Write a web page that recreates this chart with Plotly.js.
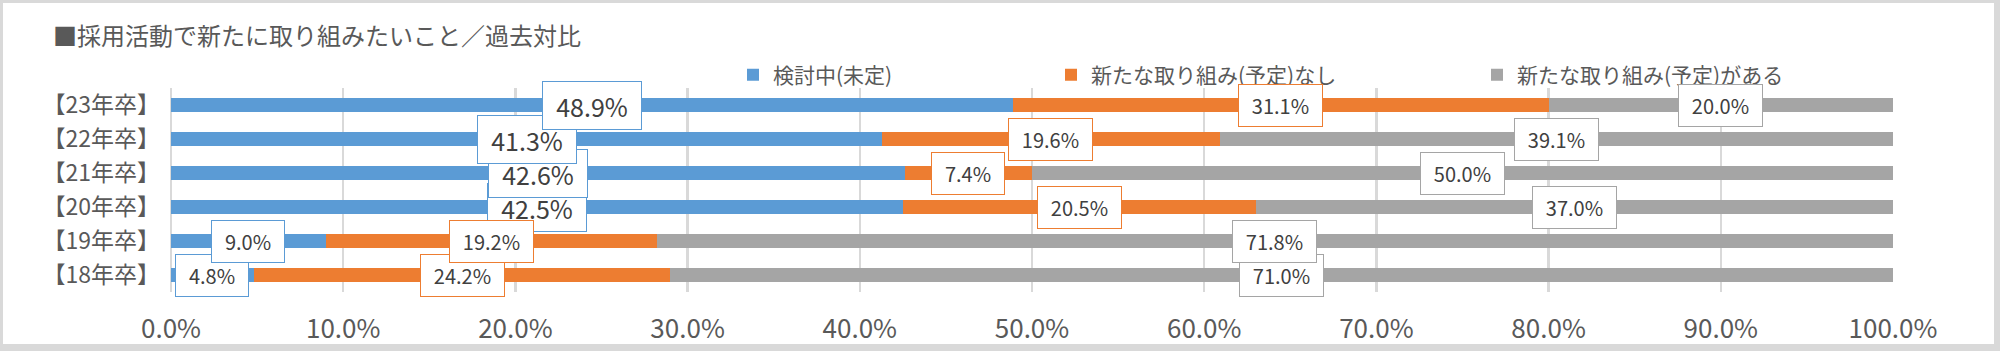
<!DOCTYPE html>
<html><head><meta charset="utf-8">
<script src="https://cdn.plot.ly/plotly-3.0.1.min.js"></script>
<style>html,body{margin:0;padding:0;background:#fff}#chart{width:2000px;height:351px}</style>
</head><body><div id="chart"></div>
<script>
// ---- data ----
const categories = ['【23年卒】','【22年卒】','【21年卒】','【20年卒】','【19年卒】','【18年卒】'];
const seriesNames = ['検討中(未定)','新たな取り組み(予定)なし','新たな取り組み(予定)がある'];
const undecided = [48.9, 41.3, 42.6, 42.5, 9.0, 4.8];
const noPlan    = [31.1, 19.6, 7.4, 20.5, 19.2, 24.2];
const hasPlan   = [20.0, 39.1, 50.0, 37.0, 71.8, 71.0];
const xTickVals = [0,10,20,30,40,50,60,70,80,90,100];
const xTickText = ['0.0%','10.0%','20.0%','30.0%','40.0%','50.0%','60.0%','70.0%','80.0%','90.0%','100.0%'];
const titleText = '■採用活動で新たに取り組みたいこと／過去対比';

// ---- styles ----
const colors = ['#5b9bd5','#ed7d31','#a5a5a5'];
const FONT = '"Noto Sans CJK JP", "Noto Sans", sans-serif';
const W = 2000, H = 351;
const M = {l:171, r:107, t:88, b:59};
const PW = W - M.l - M.r, PH = H - M.t - M.b;
const px2x = p => (p - M.l) / PW;
const px2y = p => (H - M.b - p) / PH;

const series = [undecided, noPlan, hasPlan];
const legendIds = ['legend','legend2','legend3'];
const legendTextX = [773, 1091, 1517];

const traces = series.map((vals, s) => ({
  type:'bar', orientation:'h', name: seriesNames[s],
  x: vals, y: categories,
  marker:{color: colors[s]},
  legend: legendIds[s],
  hoverinfo:'skip'
}));

// text measuring for label boxes
const cv = document.createElement('canvas').getContext('2d');
function textW(t, size){ cv.font = size + 'px ' + FONT; return cv.measureText(t).width; }

const annotations = [];
series.forEach((vals, s) => {
  for (let i = vals.length - 1; i >= 0; i--) {
    let cum = 0;
    for (let k = 0; k < s; k++) cum += series[k][i];
    const v = vals[i];
    const big = (s === 0 && i <= 3);
    const size = big ? 25 : 20;
    const txt = v.toFixed(1) + '%';
    annotations.push({
      x: cum + v/2, y: categories[i], xref:'x', yref:'y',
      text: txt, showarrow:false, xanchor:'center', yanchor:'middle',
      font:{family:FONT, size:size, color:'#404040'},
      bgcolor:'#ffffff', bordercolor: colors[s], borderwidth:1, borderpad:0,
      width: Math.round(textW(txt, size) + 26), height: big ? 47 : 41
    });
  }
});

const legendBase = {
  orientation:'h', xref:'container', yref:'container',
  y: 1 - 75/H, yanchor:'middle', xanchor:'left',
  font:{family:FONT, size:21, color:'#595959'},
  bgcolor:'rgba(0,0,0,0)', borderwidth:0
};

const layout = {
  width: W, height: H,
  margin: {l:M.l, r:M.r, t:M.t, b:M.b, pad:0, autoexpand:false},
  paper_bgcolor:'#ffffff', plot_bgcolor:'rgba(0,0,0,0)',
  barmode:'stack', bargap:0.59,
  font:{family:FONT, color:'#595959'},
  title:{text:titleText, xref:'container', yref:'container', x:53/W, xanchor:'left',
         y:1 - 37/H, yanchor:'middle', font:{family:FONT, size:24, color:'#595959'}},
  showlegend:true,
  legend: Object.assign({}, legendBase, {x:(legendTextX[0]-40)/W}),
  legend2: Object.assign({}, legendBase, {x:(legendTextX[1]-40)/W}),
  legend3: Object.assign({}, legendBase, {x:(legendTextX[2]-40)/W}),
  xaxis:{
    range:[0,100], autorange:false, tickmode:'array', tickvals:xTickVals, ticktext:xTickText,
    showgrid:true, gridcolor:'#d9d9d9', gridwidth:2.5,
    zeroline:true, zerolinecolor:'#d9d9d9', zerolinewidth:2.5,
    showline:false, ticks:'', ticklabelstandoff:19,
    tickfont:{family:FONT, size:26, color:'#595959'}, fixedrange:true
  },
  yaxis:{
    type:'category', autorange:false, range:[categories.length - 0.5, -0.5],
    showgrid:false, zeroline:false,
    showline:false, ticks:'', ticklabelstandoff:10,
    tickfont:{family:FONT, size:23, color:'#595959'}, fixedrange:true
  },
  annotations: annotations,
  shapes:[
    {type:'rect', xref:'paper', yref:'paper', layer:'below',
     x0:px2x(0), x1:px2x(W), y0:px2y(H), y1:px2y(0), fillcolor:'#d9d9d9', line:{width:0}},
    {type:'rect', xref:'paper', yref:'paper', layer:'below',
     x0:px2x(3), x1:px2x(1994), y0:px2y(344), y1:px2y(3), fillcolor:'#ffffff', line:{width:0}}
  ]
};

Plotly.newPlot('chart', traces, layout, {displayModeBar:false, staticPlot:true});
</script>
</body></html>
